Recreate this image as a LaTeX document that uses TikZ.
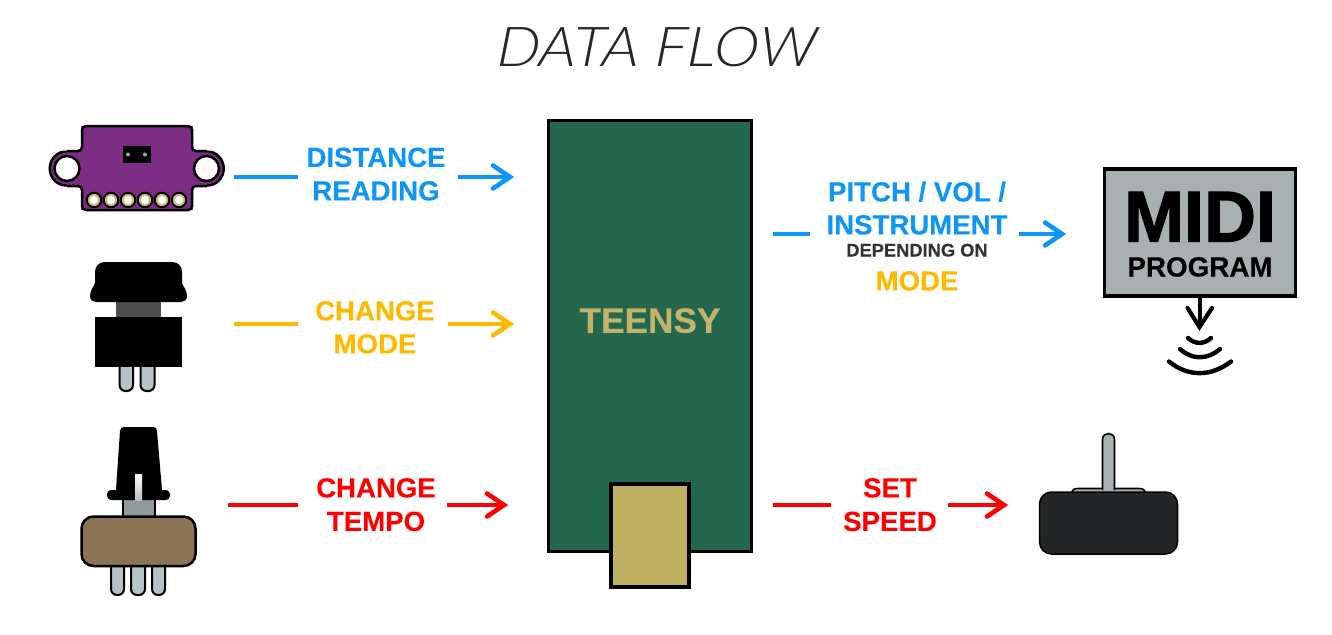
\documentclass[tikz,border=0pt]{standalone}
\usepackage{fontspec}
\setmainfont{Liberation Sans}
\newfontfamily\titlefont{Lato}[UprightFont=* Light Italic,FakeStretch=1.12,FakeSlant=0.06]
\newfontfamily\heavyfont{Liberation Sans}[UprightFont=* Bold,FakeBold=1.6]
\newfontfamily\labelfont{Liberation Sans}[UprightFont=* Bold,FakeBold=0.25]
\usetikzlibrary{arrows.meta,calc}
\definecolor{cblue}{HTML}{0D95F9}
\definecolor{corange}{HTML}{FFB900}
\definecolor{cred}{HTML}{FF0000}
\definecolor{pcbgreen}{HTML}{24664E}
\definecolor{gold}{HTML}{BFB162}
\definecolor{purple2}{HTML}{7B2D83}
\definecolor{padgold}{HTML}{C9BF80}
\definecolor{pinblue}{HTML}{B5C3C7}
\definecolor{midigray}{HTML}{A8B0B1}
\definecolor{brown2}{HTML}{8B7355}
\definecolor{dark2}{HTML}{242526}
\definecolor{stemgray}{HTML}{8F9A9C}
\definecolor{neck}{HTML}{4D4D4D}
\newcommand{\flowhead}[2]{\draw[headline=#1] ($(#2)+(-21,-11.5)$) -- ($(#2)+(-4,0)$) -- ($(#2)+(-21,11.5)$);}
\tikzset{
 x=1pt,y=-1pt,
 flowline/.style={line width=4.4pt,draw=#1},
 headline/.style={line width=4.6pt,draw=#1,line cap=round,line join=miter},
 lbl/.style={inner sep=0pt,font=\labelfont\fontsize{27.6}{33}\selectfont,text height=19.8pt,text depth=0pt,text=#1},
 pin/.style={draw=black,line width=2pt,fill=pinblue,rounded corners=6pt},
 pad/.style={circle,draw=black,line width=2pt,fill=padgold,minimum size=14.5pt,inner sep=0pt},
 padhole/.style={circle,fill=white,minimum size=8pt,inner sep=0pt},
 hole/.style={circle,draw=black,line width=2.5pt,fill=white,minimum size=25pt,inner sep=0pt},
 ear/.style={circle,draw=black,line width=2.5pt,fill=purple2,minimum size=34.5pt,inner sep=0pt},
 blackpart/.style={fill=black,draw=none},
 waves/.style={draw=black,line width=4.4pt,line cap=round},
 pcbedge/.style={draw=black,line width=2.5pt,rounded corners=4pt},
}
\begin{document}
\begin{tikzpicture}
\useasboundingbox (0,0) rectangle (1332,634);
\node[inner sep=0pt,text=black!85,text height=39.5pt,text depth=0pt] (title) at (656,47) {\titlefont\fontsize{55}{60}\selectfont DATA FLOW};

% TEENSY board
\node[draw=black,line width=3.5pt,fill=pcbgreen,minimum width=203pt,minimum height=431pt,inner sep=0pt] (teensy) at (650,336) {};
\node[inner sep=0pt,font=\labelfont\fontsize{35.2}{36}\selectfont,text=gold!95!white,text height=25.5pt,text depth=0pt] (teensylabel) at (650,320) {TEENSY};
\node[draw=black,line width=3.8pt,fill=gold,minimum width=77.5pt,minimum height=103.5pt,inner sep=0pt] (usb) at (650,535.5) {};

% Distance sensor
\node[ear] (earL) at (67,168.5) {};
\node[ear] (earR) at (206.5,168.5) {};
\fill[purple2] (67,126) rectangle (207,210);
\fill[white] (60,120) rectangle (81,150.5) (60,186.5) rectangle (81,216) (193,120) rectangle (215,150.5) (193,186.5) rectangle (215,216);
\draw[pcbedge] (67,151) -- (82,151) -- (82,126) -- (192,126) -- (192,151) -- (207,151);
\draw[pcbedge] (67,186) -- (82,186) -- (82,210) -- (192,210) -- (192,186) -- (207,186);
\node[hole] (holeL) at (67,168.5) {};
\node[hole] (holeR) at (206.5,168.5) {};
\node[fill=black,minimum width=28pt,minimum height=17pt,inner sep=0pt] (sensor) at (137,154.5) {};
\fill[black!35] (128,154.5) circle[radius=2] (145,154.5) circle[radius=2];
\foreach \i/\px in {1/94,2/111,3/128,4/145,5/162,6/179}{
  \node[pad] (p\i) at (\px,200) {};
  \node[padhole] at (\px,200) {};
}

% Push button
\draw[pin] (119.5,355) -- (119.5,391) -- (133,391) -- (133,355);
\draw[pin] (140.5,355) -- (140.5,391) -- (154.5,391) -- (154.5,355);
\fill[neck] (116,300) rectangle (161,318);
\fill[blackpart] (95,317) rectangle (182,367);
\fill[blackpart] (95,272) .. controls (95,266) and (99,262) .. (105,262) -- (172,262)
  .. controls (178,262) and (182,266) .. (182,272) -- (182,282)
  .. controls (182,286) and (187,289) .. (187,296)
  .. controls (187,300) and (184,302) .. (181,302) -- (96,302)
  .. controls (93,302) and (90,300) .. (90,296)
  .. controls (90,289) and (95,286) .. (95,282) -- cycle;

% Slide switch
\draw[pin] (111,555) -- (111,595) -- (124,595) -- (124,555);
\draw[pin] (131,555) -- (131,595) -- (145,595) -- (145,555);
\draw[pin] (152,555) -- (152,595) -- (165,595) -- (165,555);
\draw[fill=stemgray,draw=black,line width=2pt] (123,497) rectangle (155,517);
\draw[fill=brown2,draw=black,line width=2.5pt,rounded corners=12pt] (81.5,516.5) rectangle (195.5,566);
\fill[blackpart] (120,431) .. controls (120,428) and (122,427) .. (124,427) -- (153,427)
  .. controls (155,427) and (157,428) .. (157,431) -- (162,490) -- (165,490)
  .. controls (172,490) and (172,500) .. (165,500) -- (112,500)
  .. controls (105,500) and (105,490) .. (112,490) -- (116,490) -- cycle;
\shade[top color=white,middle color=white,bottom color=black!25] (135,474) rectangle (142,500);

% MIDI
\node[draw=black,line width=3.5pt,fill=midigray,minimum width=191pt,minimum height=127pt,inner sep=0pt] (midi) at (1200,232.5) {};
\node[inner sep=0pt,text height=54pt,text depth=0pt] (miditext) at (1200,214.5) {\heavyfont\fontsize{72}{72}\selectfont MIDI};
\node[inner sep=0pt,font=\labelfont\fontsize{27.8}{28}\selectfont,text height=20pt,text depth=0pt] (program) at (1200,266.5) {PROGRAM};
\coordinate (wavetop) at (1199.5,327);
\draw[line width=4pt,draw=black] (midi.south -| wavetop) -- (wavetop);
\draw[line width=4.2pt,draw=black,line cap=round] (1187.5,308) -- (wavetop) -- (1212,308);
\draw[waves] (1188,338) .. controls (1195,344.5) and (1204,344.5) .. (1211,338);
\draw[waves] (1180,349) .. controls (1192,360) and (1207,360) .. (1220,349);
\draw[waves] (1169,361.5) .. controls (1188,377) and (1211,377) .. (1231,361.5);

% Motor
\draw[fill=midigray,draw=black,line width=1.6pt] (1071,493) .. controls (1072,490) and (1074,488.5) .. (1078,488.5) -- (1139,488.5) .. controls (1143,488.5) and (1145,490) .. (1146,493) -- cycle;
\draw[fill=midigray,draw=black,line width=1.6pt] (1102.5,490) -- (1102.5,439.5) .. controls (1102.5,431.5) and (1114.5,431.5) .. (1114.5,439.5) -- (1114.5,490);
\draw[fill=dark2,draw=black,line width=1.5pt,rounded corners=12pt] (1039.5,492) rectangle (1177.5,554);

% Labels
\node[lbl=cblue] (distance) at (376,157) {DISTANCE};
\node[lbl=cblue] (reading) at (376,190.5) {READING};
\node[lbl=corange] (change) at (375,310.5) {CHANGE};
\node[lbl=corange] (mode) at (375,343.5) {MODE};
\node[lbl=cred] (change2) at (376,487.5) {CHANGE};
\node[lbl=cred] (tempo) at (376,521) {TEMPO};
\node[lbl=cblue] (pitch) at (917,191.5) {PITCH / VOL /};
\node[lbl=cblue] (instrument) at (917,224.5) {INSTRUMENT};
\node[inner sep=0pt,font=\labelfont\fontsize{18.3}{19}\selectfont,text=black!80,text height=13pt,text depth=0pt] (depending) at (917,250) {DEPENDING ON};
\node[lbl=corange] (mode2) at (917,280.5) {MODE};
\node[lbl=cred] (set) at (890,487.5) {SET};
\node[lbl=cred] (speed) at (890,521) {SPEED};

% Connectors
\coordinate (a1) at (234,177); \coordinate (a2) at (298,177); \coordinate (a3) at (458,177); \coordinate (a4) at (514,177);
\draw[flowline=cblue] (a1) -- (a2);
\draw[flowline=cblue] (a3) -- ($(a4)+(-5,0)$); \flowhead{cblue}{a4}
\coordinate (b1) at (234,324); \coordinate (b2) at (298,324); \coordinate (b3) at (448,324); \coordinate (b4) at (514,324);
\draw[flowline=corange] (b1) -- (b2);
\draw[flowline=corange] (b3) -- ($(b4)+(-5,0)$); \flowhead{corange}{b4}
\coordinate (c1) at (228,505); \coordinate (c2) at (298,505); \coordinate (c3) at (447,505); \coordinate (c4) at (508,505);
\draw[flowline=cred] (c1) -- (c2);
\draw[flowline=cred] (c3) -- ($(c4)+(-5,0)$); \flowhead{cred}{c4}
\coordinate (d1) at (773,234); \coordinate (d2) at (810,234); \coordinate (d3) at (1019,234); \coordinate (d4) at (1066,234);
\draw[flowline=cblue] (d1) -- (d2);
\draw[flowline=cblue] (d3) -- ($(d4)+(-5,0)$); \flowhead{cblue}{d4}
\coordinate (e1) at (773,505); \coordinate (e2) at (831,505); \coordinate (e3) at (948,505); \coordinate (e4) at (1008,505);
\draw[flowline=cred] (e1) -- (e2);
\draw[flowline=cred] (e3) -- ($(e4)+(-5,0)$); \flowhead{cred}{e4}
\end{tikzpicture}
\end{document}
